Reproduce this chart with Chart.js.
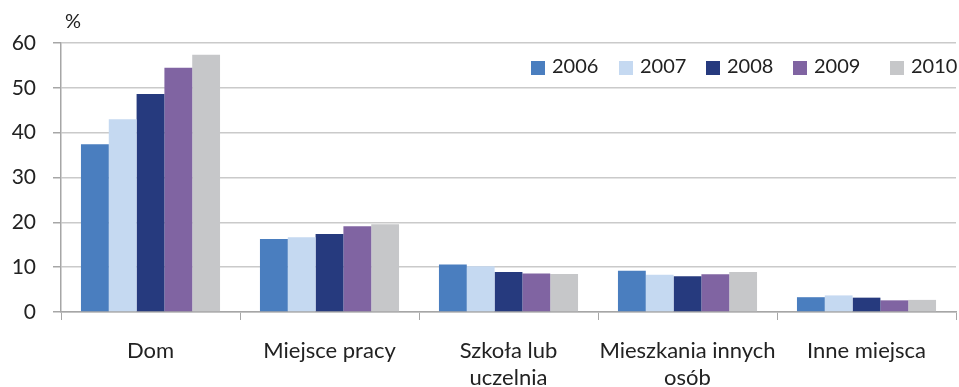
<!DOCTYPE html>
<html>
<head>
<meta charset="utf-8">
<script src="https://cdn.jsdelivr.net/npm/chart.js@4"></script>
<style>
  html, body { margin: 0; padding: 0; background: #fff; }
  #wrap { width: 959px; height: 387px; }
</style>
</head>
<body>
<div id="wrap"><canvas id="chart"></canvas></div>
<script>
const categories = ["Dom", "Miejsce pracy", ["Szkoła lub", "uczelnia"], ["Mieszkania innych", "osób"], "Inne miejsca"];
const years = ["2006", "2007", "2008", "2009", "2010"];
const values2006 = [37.4, 16.3, 10.6, 9.2, 3.3];
const values2007 = [43.0, 16.7, 10.2, 8.3, 3.7];
const values2008 = [48.6, 17.4, 8.9, 8.0, 3.2];
const values2009 = [54.5, 19.1, 8.6, 8.4, 2.6];
const values2010 = [57.4, 19.6, 8.5, 8.9, 2.7];
const colors = ["#4a7ebf", "#c5d9f1", "#263a7e", "#8064a2", "#c6c7c9"];
const yTicks = [0, 10, 20, 30, 40, 50, 60];

const FONT = "Lato, 'Open Sans', sans-serif";

// legend and "%" unit are painted inside the plot, top right
const insideLegend = {
    id: "insideLegend",
    afterDraw(c) {
        const ctx = c.ctx;
        ctx.save();
        ctx.font = "20px " + FONT;
        ctx.fillStyle = "#222";
        ctx.textBaseline = "middle";
        ctx.textAlign = "left";
        ctx.fillText("%", 65, 22);
        const xs = [531, 619, 706, 793, 890];
        c.data.datasets.forEach((ds, i) => {
            ctx.fillStyle = ds.backgroundColor;
            ctx.fillRect(xs[i], 61, 14, 14);
            ctx.fillStyle = "#222";
            ctx.fillText(ds.label, xs[i] + 21, 67);
        });
        ctx.restore();
    }
};

const series = [values2006, values2007, values2008, values2009, values2010];

new Chart(document.getElementById("chart"), {
    type: "bar",
    data: {
        labels: categories,
        datasets: years.map((y, i) => ({
            label: y,
            data: series[i],
            backgroundColor: colors[i],
            borderWidth: 0,
            barPercentage: 1.0,
            categoryPercentage: 0.777
        }))
    },
    options: {
        responsive: true,
        maintainAspectRatio: false,
        animation: false,
        layout: { padding: { top: 43, right: 3, left: 0, bottom: 0 } },
        plugins: {
            legend: { display: false },
            tooltip: { enabled: false }
        },
        scales: {
            x: {
                grid: {
                    offset: true,
                    drawOnChartArea: false,
                    drawTicks: true,
                    tickLength: 8,
                    color: "#a6a6a6"
                },
                border: { color: "#a6a6a6", width: 1.5 },
                ticks: {
                    color: "#222",
                    font: { family: FONT, size: 22, lineHeight: 1.23 },
                    padding: 17,
                    maxRotation: 0,
                    autoSkip: false
                },
                afterFit(s) { s.height = 75; }
            },
            y: {
                min: 0,
                max: 60,
                afterBuildTicks(s) { s.ticks = yTicks.map(v => ({ value: v })); },
                grid: {
                    color: "#cacaca",
                    lineWidth: 1.5,
                    tickLength: 8,
                    tickColor: "#a6a6a6"
                },
                border: { color: "#a6a6a6", width: 1.5 },
                ticks: {
                    color: "#222",
                    font: { family: FONT, size: 21 },
                    padding: 17
                },
                afterFit(s) { s.width = 61; }
            }
        }
    },
    plugins: [insideLegend]
});
</script>
</body>
</html>
